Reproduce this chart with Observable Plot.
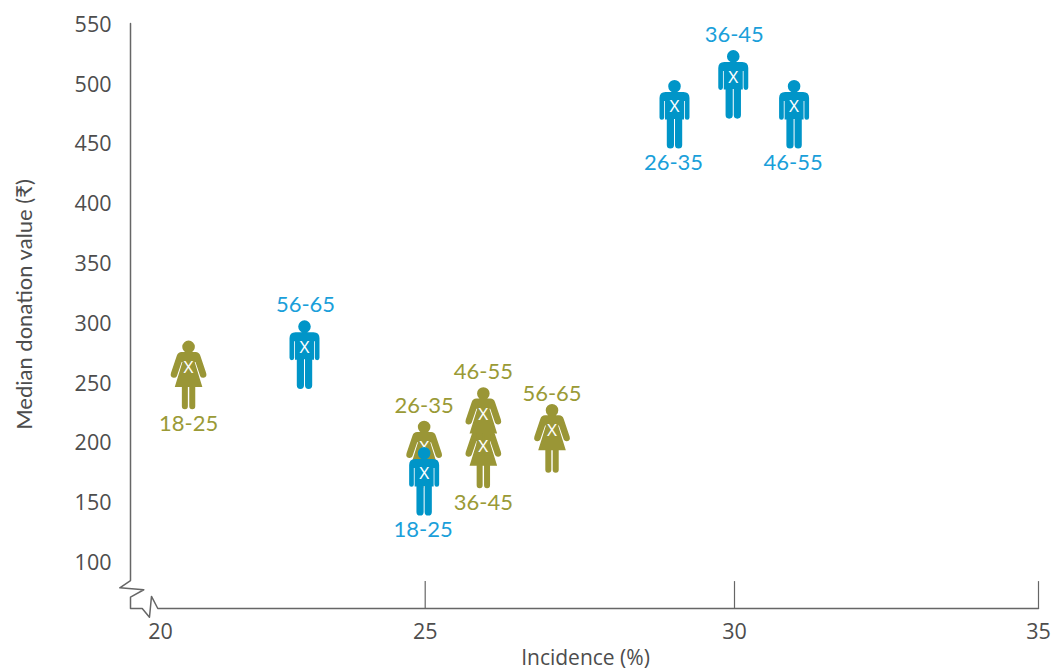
<!DOCTYPE html>
<html>
<head>
<meta charset="utf-8">
<style>html,body{margin:0;padding:0;background:#fff}svg{display:block}</style>
<script src="https://cdn.jsdelivr.net/npm/d3@7"></script>
<script src="https://cdn.jsdelivr.net/npm/@observablehq/plot@0.6"></script>
</head>
<body>
<div id="chart"></div>
<script>
const ages = ["18-25","26-35","36-45","46-55","56-65"];
const womenIncidence = [20.53,24.98,25.94,25.94,27.05];
const womenDonation = [263,196,197,224,210];
const womenLabelAbove = [false,true,false,true,true];
const menIncidence = [24.98,29.03,29.98,30.98,22.72];
const menDonation = [174,481,506,481,280];
const menLabelAbove = [false,false,true,false,true];
const xTicks = [20,25,30,35];
const yTicks = [100,150,200,250,300,350,400,450,500,550];
const xTickMarks = [25,30,35];
const axisBreakX = [19.434,19.434,19.232,19.685,19.434,19.434,19.655,19.792,19.83,19.949,35];
const axisBreakY = [550.8,84.9,78.8,77.2,71,61.5,61.5,54.2,71.6,61.5,61.5];
const xLabel = "Incidence (%)";
const yLabel = "Median donation value (₹)";
const olive = "#9a9636", blue = "#0095c8";
const oliveText = "#9a9a36", blueText = "#1a9fda", axisColor = "#666", tickColor = "#4d4d4d";

const table = (xs, ys, above) => ages.map((age,i)=>({age,x:xs[i],y:ys[i],above:above[i]}));
const women = table(womenIncidence, womenDonation, womenLabelAbove);
const men = table(menIncidence, menDonation, menLabelAbove);
const axisPath = axisBreakX.map((x,i)=>({x,y:axisBreakY[i]}));

const manSymbol = {draw(c,size){
  const s=Math.sqrt(size/Math.PI), P=Math.PI;
  const M=(x,y)=>c.moveTo(x*s,y*s), L=(x,y)=>c.lineTo(x*s,y*s), Q=(a,b,x,y)=>c.quadraticCurveTo(a*s,b*s,x*s,y*s), A=(x,y,r,a0,a1)=>c.arc(x*s,y*s,r*s,a0,a1);
  M(6.3,-20.7); A(0,-20.7,6.3,0,2*P); c.closePath();
  M(-9,-15); L(9,-15); Q(15,-15,15,-9); L(15,10.5); A(12.65,10.5,2.35,0,P);
  L(10.3,-6); L(9.5,-6); L(9.5,12.5); L(7.7,12.5); L(7.7,38); A(4.1,38,3.6,0,P); L(0.5,12); L(-0.5,12); L(-0.5,38); A(-4.1,38,3.6,0,P);
  L(-7.7,12.5); L(-9.5,12.5); L(-9.5,-6); L(-10.3,-6); L(-10.3,10.5); A(-12.65,10.5,2.35,0,P); L(-15,-9); Q(-15,-15,-9,-15); c.closePath();
}};
const womanSymbol = {draw(c,size){
  const s=Math.sqrt(size/Math.PI), P=Math.PI;
  const M=(x,y)=>c.moveTo(x*s,y*s), L=(x,y)=>c.lineTo(x*s,y*s), Q=(a,b,x,y)=>c.quadraticCurveTo(a*s,b*s,x*s,y*s), A=(x,y,r,a0,a1)=>c.arc(x*s,y*s,r*s,a0,a1);
  M(6.3,-20.7); A(0,-20.7,6.3,0,2*P); c.closePath();
  M(-7,-15.7); L(7,-15.7); Q(10.5,-15.7,11.7,-12); L(17.6,5.5); Q(18.8,9.8,15,10.2); Q(12.6,10.4,11.7,8.6);
  L(6.9,-5.5); L(6.1,-5.5); L(13.8,19.3); L(6.7,19.3); L(6.7,38.7); A(3.7,38.7,3,0,P); L(0.7,19.3); L(-0.7,19.3); L(-0.7,38.7); A(-3.7,38.7,3,0,P);
  L(-6.7,19.3); L(-13.8,19.3); L(-6.1,-5.5); L(-6.9,-5.5); L(-11.7,8.6); Q(-12.6,10.4,-15,10.2); Q(-18.8,9.8,-17.6,5.5); L(-11.7,-12); Q(-10.5,-15.7,-7,-15.7); c.closePath();
}};

const labelFont = {fontFamily:"Lato",fontSize:22};
const xMark = {x:"x",y:"y",text:()=>"X",fill:"#fff",fontFamily:"Noto Sans",fontSize:17};
const loweredLabel = d => d.age==="56-65";
const chart = Plot.plot({
  width:1062,height:672,marginTop:0,marginBottom:64,marginLeft:130,marginRight:22,
  style:{fontFamily:"Open Sans",fontSize:"21.5px",color:tickColor,background:"#fff"},
  x:{type:"linear",domain:[18,20,25,30,35],range:[54,160,424.7,734,1038]},
  y:{type:"linear",domain:[61.5,550],range:[608,24]},
  marks:[
    Plot.line(axisPath,{x:"x",y:"y",stroke:axisColor,strokeWidth:1.5,curve:"linear"}),
    Plot.ruleX(xTickMarks,{y1:61.5,y2:84,stroke:axisColor,strokeWidth:1.2}),
    Plot.axisX(xTicks,{anchor:"bottom",ticks:xTicks,tickSize:0,tickPadding:15,label:null,fill:tickColor}),
    Plot.axisY(yTicks,{anchor:"left",ticks:yTicks,tickSize:0,tickPadding:19,label:null,fill:tickColor,dy:0.5}),
    Plot.text([xLabel],{frameAnchor:"bottom",lineAnchor:"middle",dy:50,fill:tickColor,fontFamily:"Open Sans",fontSize:21}),
    Plot.text([yLabel],{frameAnchor:"left",textAnchor:"middle",lineAnchor:"middle",dx:-106,rotate:-90,fill:tickColor,fontFamily:"Lato",fontSize:22}),
    Plot.dot(women,{x:"x",y:"y",r:1,symbol:womanSymbol,fill:olive,stroke:"none"}),
    Plot.text(women,xMark),
    Plot.text(women.filter(d=>d.above&&!loweredLabel(d)),{x:"x",y:"y",text:"age",dy:-42,fill:oliveText,...labelFont}),
    Plot.text(women.filter(d=>d.above&&loweredLabel(d)),{x:"x",y:"y",text:"age",dy:-37,fill:oliveText,...labelFont}),
    Plot.text(women.filter(d=>!d.above),{x:"x",y:"y",text:"age",dy:56,fill:oliveText,...labelFont}),
    Plot.dot(men,{x:"x",y:"y",r:1,symbol:manSymbol,fill:blue,stroke:"none"}),
    Plot.text(men,xMark),
    Plot.text(men.filter(d=>d.above),{x:"x",y:"y",text:"age",dy:-42,dx:1,fill:blueText,...labelFont}),
    Plot.text(men.filter(d=>!d.above),{x:"x",y:"y",text:"age",dy:56,dx:-1,fill:blueText,...labelFont})
  ]
});
document.getElementById("chart").appendChild(chart);
</script>
</body>
</html>
